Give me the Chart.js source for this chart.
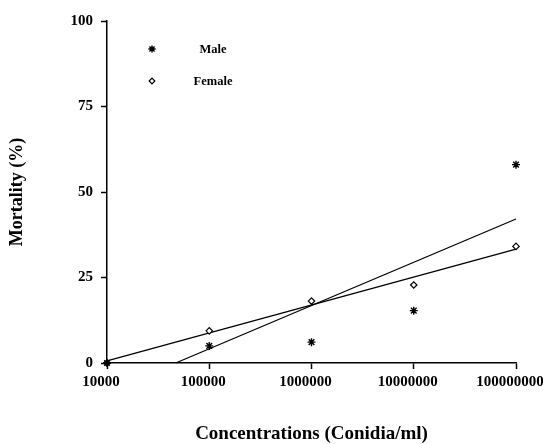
<!DOCTYPE html>
<html lang="en">
<head>
    <meta charset="UTF-8" />
    <title>Mortality vs Concentration</title>
    <script src="https://cdn.jsdelivr.net/npm/chart.js"></script>
    <style>
        html, body {
            margin: 0;
            padding: 0;
            background: #ffffff;
        }
        #wrap {
            width: 543px;
            height: 444px;
            position: relative;
        }
    </style>
</head>
<body>
    <div id="wrap">
        <canvas id="mortalityChart"></canvas>
    </div>

    <script>
        // concentrations (conidia/ml) and mortality (%)
        const concentrations = [10000, 100000, 1000000, 10000000, 100000000];
        const maleMortality = [0, 5, 6.1, 15.3, 58];
        const femaleMortality = [0, 9.4, 18.1, 22.8, 34.1];

        // fitted trend lines, end points
        const maleTrend = [[47000, 0], [100000000, 42.1]];
        const femaleTrend = [[10000, 0.6], [100000000, 33.3]];

        const xTickValues = [10000, 100000, 1000000, 10000000, 100000000];
        const yTickValues = [0, 25, 50, 75, 100];

        const serif = "'Liberation Serif', 'Times New Roman', serif";

        const toPoints = (xs, ys) => xs.map((x, i) => ({ x: x, y: ys[i] }));
        const trendPoints = (pts) => pts.map(p => ({ x: p[0], y: p[1] }));

        // small legend inside the plot, top left
        const innerLegend = {
            id: "innerLegend",
            afterDraw(chart) {
                const ctx = chart.ctx;
                const items = [
                    { text: "Male", style: "star", radius: 3.6, width: 1.4, y: 49 },
                    { text: "Female", style: "rectRot", radius: 2.8, width: 1.2, y: 81 }
                ];
                ctx.save();
                ctx.font = "bold 12.5px " + serif;
                ctx.textBaseline = "middle";
                ctx.textAlign = "center";
                items.forEach(item => {
                    ctx.strokeStyle = "#000";
                    ctx.fillStyle = "#fff";
                    ctx.lineWidth = item.width;
                    Chart.helpers.drawPoint(ctx, { pointStyle: item.style, radius: item.radius, borderWidth: item.width }, 152, item.y);
                    ctx.fillStyle = "#000";
                    ctx.fillText(item.text, 213, item.y + 1);
                });
                ctx.restore();
            }
        };

        const ctx = document.getElementById("mortalityChart").getContext("2d");

        const chart = new Chart(ctx, {
            type: "scatter",
            data: {
                datasets: [
                    {
                        label: "Male",
                        data: toPoints(concentrations, maleMortality),
                        pointStyle: "star",
                        pointRadius: 4,
                        pointBorderWidth: 1.4,
                        borderColor: "#000",
                        backgroundColor: "#000",
                        showLine: false,
                        clip: false
                    },
                    {
                        label: "Female",
                        data: toPoints(concentrations, femaleMortality),
                        pointStyle: "rectRot",
                        pointRadius: 3.2,
                        pointBorderWidth: 1.2,
                        borderColor: "#000",
                        backgroundColor: "#fff",
                        showLine: false,
                        clip: false
                    },
                    {
                        label: "Male trend",
                        data: trendPoints(maleTrend),
                        showLine: true,
                        pointRadius: 0,
                        borderColor: "#000",
                        borderWidth: 1.3,
                        clip: false
                    },
                    {
                        label: "Female trend",
                        data: trendPoints(femaleTrend),
                        showLine: true,
                        pointRadius: 0,
                        borderColor: "#000",
                        borderWidth: 1.3,
                        clip: false
                    }
                ]
            },
            options: {
                responsive: true,
                maintainAspectRatio: false,
                animation: false,
                layout: { padding: { top: 21, right: 27, left: 0, bottom: 0 } },
                plugins: {
                    legend: { display: false },
                    tooltip: { enabled: false }
                },
                scales: {
                    x: {
                        type: "logarithmic",
                        min: 10000,
                        max: 100000000,
                        afterBuildTicks: (scale) => {
                            scale.ticks = xTickValues.map(v => ({ value: v }));
                        },
                        afterFit: (scale) => {
                            scale.height = 81;
                            scale.paddingLeft = 0;
                            scale.paddingRight = 0;
                        },
                        ticks: {
                            autoSkip: false,
                            maxRotation: 0,
                            padding: 4,
                            labelOffset: -6,
                            color: "#000",
                            font: { family: serif, size: 15, weight: "bold" },
                            callback: (value) => String(value)
                        },
                        grid: {
                            drawOnChartArea: false,
                            drawTicks: true,
                            tickLength: 6,
                            tickWidth: 1.5,
                            color: "#000"
                        },
                        border: { display: true, color: "#000", width: 1.5 },
                        title: {
                            display: true,
                            text: "Concentrations (Conidia/ml)",
                            color: "#000",
                            font: { family: serif, size: 19, weight: "bold", lineHeight: 1 },
                            padding: { top: 0, bottom: 0 }
                        }
                    },
                    y: {
                        min: 0,
                        max: 100,
                        afterBuildTicks: (scale) => {
                            scale.ticks = yTickValues.map(v => ({ value: v }));
                        },
                        afterFit: (scale) => {
                            scale.width = 107;
                            scale.paddingTop = 0;
                            scale.paddingBottom = 0;
                        },
                        ticks: {
                            padding: 8,
                            color: "#000",
                            font: { family: serif, size: 15, weight: "bold" }
                        },
                        grid: {
                            drawOnChartArea: false,
                            drawTicks: true,
                            tickLength: 6,
                            tickWidth: 1.5,
                            color: "#000"
                        },
                        border: { display: true, color: "#000", width: 1.5 },
                        title: {
                            display: true,
                            text: "Mortality (%)",
                            color: "#000",
                            font: { family: serif, size: 18, weight: "bold" },
                            padding: { top: 7, bottom: 0 }
                        }
                    }
                }
            },
            plugins: [innerLegend]
        });
    </script>
</body>
</html>
